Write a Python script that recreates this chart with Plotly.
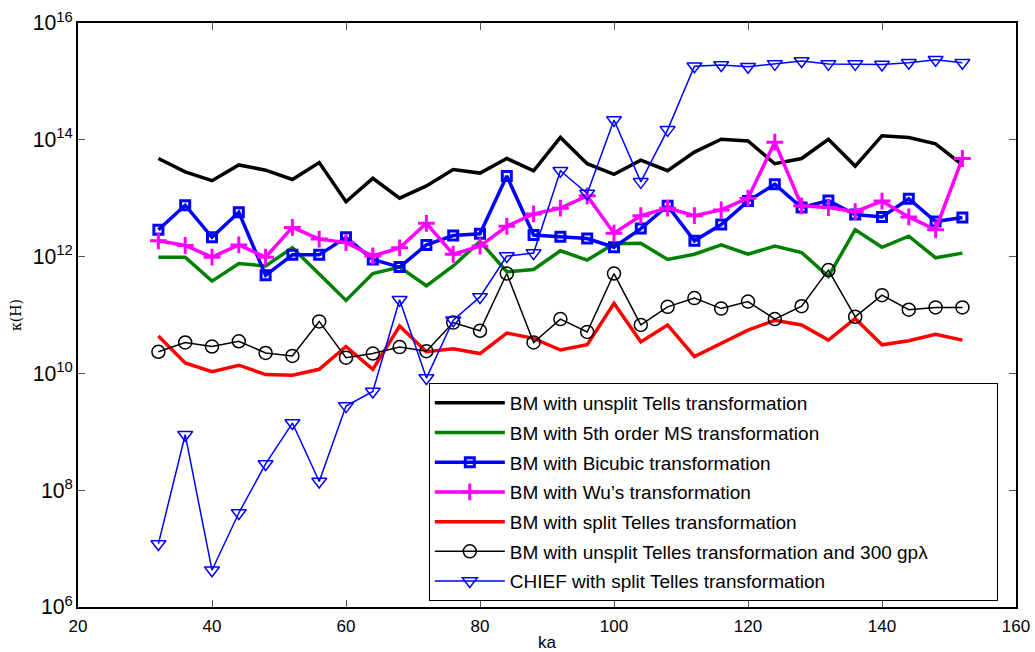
import plotly.graph_objects as go

ka = [32, 36, 40, 44, 48, 52, 56, 60, 64, 68, 72, 76, 80, 84, 88, 92, 96, 100,
      104, 108, 112, 116, 120, 124, 128, 132, 136, 140, 144, 148, 152]

# log10 of condition number
unsplit_tells = [13.68, 13.45, 13.30, 13.57, 13.48, 13.32, 13.61, 12.94, 13.34, 13.00, 13.21,
                 13.49, 13.43, 13.68, 13.47, 14.04, 13.59, 13.41, 13.65, 13.47, 13.79, 14.01,
                 13.98, 13.59, 13.68, 14.01, 13.55, 14.07, 14.04, 13.93, 13.57]
ms5 = [11.99, 11.99, 11.58, 11.88, 11.84, 12.15, 11.70, 11.25, 11.71, 11.82, 11.50,
       11.84, 12.26, 11.74, 11.78, 12.10, 11.94, 12.22, 12.23, 11.95, 12.04, 12.20,
       12.04, 12.18, 12.07, 11.66, 12.46, 12.16, 12.35, 11.98, 12.06]
bicubic = [12.46, 12.88, 12.33, 12.76, 11.68, 12.03, 12.03, 12.33, 11.95, 11.82, 12.20,
           12.36, 12.39, 13.38, 12.37, 12.34, 12.31, 12.16, 12.48, 12.87, 12.27, 12.55,
           12.95, 13.24, 12.84, 12.96, 12.72, 12.68, 12.99, 12.60, 12.67]
wu = [12.27, 12.19, 11.99, 12.20, 11.99, 12.50, 12.30, 12.24, 12.01, 12.15, 12.57,
      12.04, 12.18, 12.52, 12.73, 12.83, 13.04, 12.40, 12.70, 12.83, 12.70, 12.80,
      13.00, 13.96, 12.87, 12.84, 12.77, 12.95, 12.68, 12.46, 13.68]
split_telles = [10.64, 10.18, 10.03, 10.14, 9.98, 9.97, 10.07, 10.46, 10.07, 10.81, 10.37,
                10.42, 10.34, 10.69, 10.60, 10.40, 10.49, 11.20, 10.54, 10.83, 10.29, 10.52,
                10.74, 10.91, 10.83, 10.57, 10.94, 10.49, 10.56, 10.67, 10.57]
unsplit_300 = [10.37, 10.53, 10.46, 10.55, 10.35, 10.30, 10.89, 10.27, 10.34, 10.45, 10.38,
               10.87, 10.73, 11.71, 10.53, 10.93, 10.71, 11.71, 10.83, 11.14, 11.29, 11.11,
               11.23, 10.93, 11.15, 11.77, 10.97, 11.34, 11.09, 11.13, 11.13]
chief = [7.08, 8.95, 6.63, 7.61, 8.45, 9.15, 8.15, 9.44, 9.69, 11.26, 9.92,
         10.91, 11.31, 12.01, 12.06, 13.47, 13.08, 14.34, 13.28, 14.17, 15.26, 15.28,
         15.25, 15.30, 15.35, 15.30, 15.30, 15.29, 15.32, 15.37, 15.32]

names = [
    "BM with unsplit Tells transformation",
    "BM with 5th order MS transformation",
    "BM with Bicubic transformation",
    "BM with Wu\u2019s transformation",
    "BM with split Telles transformation",
    "BM with unsplit Telles transformation and 300 gp\u03bb",
    "CHIEF with split Telles transformation",
]
series = [unsplit_tells, ms5, bicubic, wu, split_telles, unsplit_300, chief]
colors = ["#000000", "#008000", "#0000ff", "#ff00ff", "#ff0000", "#000000", "#0000ff"]
widths = [3.5, 3.5, 3.5, 3.5, 3.5, 1.5, 1.5]
markers = [None, None, ("square-open", 9, 3), ("cross-thin-open", 12, 3), None,
           ("circle-open", 13, 1.5), ("triangle-down-open", 13, 1.5)]

# trailing non-breaking spaces pad the legend box out to the reference width
PAD = "\u00a0" * 12

fig = go.Figure()
for i, (nm, s, c, w, mk) in enumerate(zip(names, series, colors, widths, markers)):
    y = [10 ** v for v in s]
    label = nm + PAD if i == 5 else nm
    kw = dict(x=ka, y=y, name=label, legendgroup=f"g{i}",
              line=dict(color=c, width=w))
    if mk is None:
        kw["mode"] = "lines"
    else:
        kw["mode"] = "lines+markers"
        kw["marker"] = dict(symbol=mk[0], size=mk[1], color=c,
                            line=dict(width=mk[2], color=c))
    fig.add_trace(go.Scatter(**kw))

FONT = "Liberation Sans, Arial"
axis_common = dict(showline=True, linecolor="black", linewidth=1.5, mirror="ticks",
                   ticks="inside", ticklen=7, tickcolor="#555555", showgrid=False,
                   zeroline=False, automargin=False,
                   tickfont=dict(family=FONT, size=17, color="black"))
fig.update_xaxes(range=[20, 160], dtick=20, ticklabelstandoff=3,
                 title=dict(text="ka", standoff=4,
                            font=dict(family=FONT, size=17, color="black")),
                 **axis_common)
fig.update_yaxes(type="log", range=[6, 16], dtick=2, exponentformat="power",
                 title=dict(text="\u03ba(H)", standoff=8,
                            font=dict(family="DejaVu Serif", size=14, color="black")),
                 **axis_common)

fig.update_layout(
    width=1035, height=652,
    margin=dict(l=78, r=19, t=23, b=45),
    paper_bgcolor="white", plot_bgcolor="white",
    legend=dict(x=0.374, y=0.3836, xanchor="left", yanchor="top",
                bordercolor="black", borderwidth=1, bgcolor="white",
                traceorder="grouped", tracegroupgap=2, itemwidth=70,
                font=dict(family=FONT, size=19, color="black")),
    font=dict(family=FONT, color="black"),
)

fig.write_html("out.html")
